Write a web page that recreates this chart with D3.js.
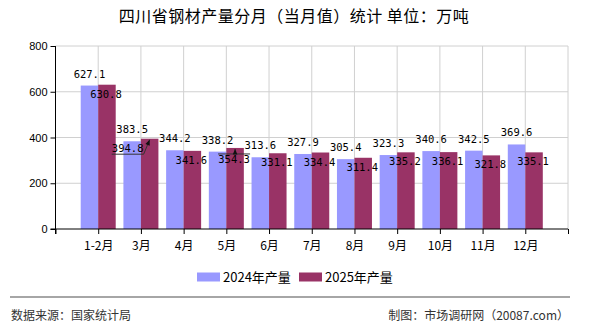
<!DOCTYPE html>
<html>
<head>
<meta charset="utf-8">
<script src="https://cdn.jsdelivr.net/npm/d3@7"></script>
<style>
  body { margin: 0; background: #fff; }
  svg { display: block; }
</style>
</head>
<body>
<div id="chart"></div>
<script>
var months = ["1-2月", "3月", "4月", "5月", "6月", "7月", "8月", "9月", "10月", "11月", "12月"];
var prod2024 = [627.1, 383.5, 344.2, 338.2, 313.6, 327.9, 305.4, 323.3, 340.6, 342.5, 369.6];
var prod2025 = [630.8, 394.8, 341.6, 354.3, 331.1, 334.4, 311.4, 335.2, 336.1, 321.8, 335.1];
var seriesNames = ["2024年产量", "2025年产量"];
var yTicks = [0, 200, 400, 600, 800];

var width = 590, height = 330;
var cnFont = "'Noto Sans CJK SC', 'DejaVu Sans', sans-serif";
var numFont = "'DejaVu Sans Mono', 'Liberation Mono', monospace";
var colors = ["#9999ff", "#993366"];

var svg = d3.select("#chart").append("svg")
  .attr("width", width).attr("height", height);

// title
svg.append("text")
  .attr("x", 294).attr("y", 22)
  .attr("text-anchor", "middle")
  .style("font-family", cnFont).style("font-size", "16px")
  .style("letter-spacing", "0.5px")
  .text("四川省钢材产量分月（当月值）统计 单位：万吨");

var x = d3.scaleLinear().domain([0, months.length + 1]).range([55.5, 568]);
var y = d3.scaleLinear().domain([0, 800]).range([229, 46]);
var barW = 17.5;

// grid
var grid = svg.append("g");
grid.selectAll(".hg").data(yTicks.slice(1)).enter().append("line")
  .attr("x1", x(0)).attr("x2", x(12))
  .attr("y1", function(d){ return y(d); }).attr("y2", function(d){ return y(d); })
  .attr("stroke", "#d0d0d0").attr("stroke-width", 1);
grid.selectAll(".vg").data(d3.range(1, 13)).enter().append("line")
  .attr("x1", function(d){ return x(d); }).attr("x2", function(d){ return x(d); })
  .attr("y1", y(800)).attr("y2", y(0))
  .attr("stroke", "#d0d0d0").attr("stroke-width", 1);

// bars
var bars = svg.append("g");
[prod2024, prod2025].forEach(function(series, s){
  bars.selectAll(".b" + s).data(series).enter().append("rect")
    .attr("x", function(d, i){ return x(i + 1) - barW + s * barW; })
    .attr("width", barW)
    .attr("y", function(d){ return y(d); })
    .attr("height", function(d){ return y(0) - y(d); })
    .attr("fill", colors[s]);
});

// axes
var yAxis = d3.axisLeft(y).tickValues(yTicks).tickSize(5).tickPadding(3);
var gy = svg.append("g").attr("transform", "translate(" + x(0) + ",0)").call(yAxis);
gy.select(".domain").attr("d", "M0," + y(800) + "V" + (y(0) + 5));
var xAxis = d3.axisBottom(x).tickValues(d3.range(0, 13)).tickSize(5)
  .tickFormat(function(d){ return (d >= 1 && d <= months.length) ? months[d - 1] : ""; });
var gx = svg.append("g").attr("transform", "translate(0," + y(0) + ")").call(xAxis);
gx.select(".domain").attr("d", "M" + (x(0) - 5) + ",0H" + x(12));
gx.selectAll(".tick text").attr("dy", "1.05em");
[gx, gy].forEach(function(g){
  g.selectAll("path, line").attr("stroke", "#000");
  g.selectAll("text").attr("fill", "#000");
});
gy.selectAll("text").style("font-family", "'Liberation Sans', sans-serif").style("font-size", "11px");
gx.selectAll("text").style("font-family", cnFont).style("font-size", "12px");

// value labels
var labels = svg.append("g").style("font-family", numFont).style("font-size", "10.5px");
labels.selectAll(".l24").data(prod2024).enter().append("text")
  .attr("x", function(d, i){ return x(i + 1) - barW / 2; })
  .attr("y", function(d){ return y(d) - 8; })
  .attr("text-anchor", "middle")
  .text(function(d){ return d.toFixed(1); });

// labels that were pushed aside get a leader line
var shifted = { "3月": { dx: -22, dy: 0, ul: 2.5 }, "5月": { dx: -1, dy: 2, ul: -9 } };
var lead = svg.append("g");
prod2025.forEach(function(d, i){
  var cx = x(i + 1) + barW / 2, top = y(d);
  var sh = shifted[months[i]] || { dx: -1, dy: 0 };
  var lx = cx + sh.dx, ly = top + 13 + sh.dy;
  labels.append("text")
    .attr("x", lx).attr("y", ly)
    .attr("text-anchor", "middle")
    .text(d.toFixed(1));
  if (shifted[months[i]]) {
    var ul = ly + sh.ul, half = 16;
    var ax = Math.min(Math.max(cx, lx - half), lx + half);
    lead.append("path")
      .attr("d", "M" + (lx - half) + "," + ul + "H" + (lx + half) +
                 "M" + ax + "," + ul + "L" + cx + "," + (top + 1))
      .attr("stroke", "#333").attr("stroke-width", 1).attr("fill", "none");
    var ang = Math.atan2((top + 1) - ul, cx - ax);
    var tipx = cx, tipy = top + 1;
    lead.append("path")
      .attr("d", "M" + tipx + "," + tipy +
        "L" + (tipx - 6 * Math.cos(ang - 0.4)) + "," + (tipy - 6 * Math.sin(ang - 0.4)) +
        "L" + (tipx - 6 * Math.cos(ang + 0.4)) + "," + (tipy - 6 * Math.sin(ang + 0.4)) + "Z")
      .attr("fill", "#111");
  }
});

// legend
var legend = svg.append("g");
var legX = [197, 299];
seriesNames.forEach(function(name, s){
  legend.append("rect").attr("x", legX[s]).attr("y", 272.5)
    .attr("width", 23).attr("height", 9).attr("fill", colors[s]);
  legend.append("text").attr("x", legX[s] + 26).attr("y", 281.5)
    .style("font-family", cnFont).style("font-size", "13px")
    .text(name);
});

// footer
svg.append("line").attr("x1", 10).attr("x2", 570).attr("y1", 297).attr("y2", 297)
  .attr("stroke", "#888").attr("stroke-width", 1.5);
svg.append("text").attr("x", 11).attr("y", 320)
  .style("font-family", cnFont).style("font-size", "12px").attr("fill", "#333")
  .text("数据来源：国家统计局");
svg.append("text").attr("x", 569).attr("y", 320).attr("text-anchor", "end")
  .style("font-family", cnFont).style("font-size", "12px").attr("fill", "#333")
  .text("制图：市场调研网（20087.com）");
</script>
</body>
</html>
